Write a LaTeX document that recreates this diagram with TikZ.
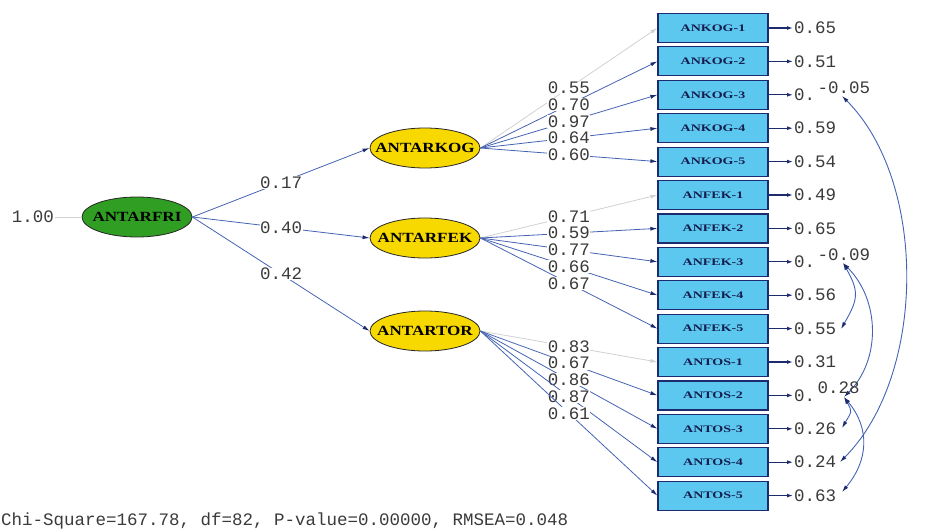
\documentclass[tikz,border=0pt]{standalone}
\usepackage{fontspec}
\setmainfont{Liberation Serif}
\setmonofont{Liberation Mono}
\usetikzlibrary{shapes.geometric,arrows.meta}

\definecolor{boxblue}{HTML}{5CC8F0}
\definecolor{navy}{HTML}{1C2A6E}
\definecolor{pathblue}{HTML}{4563B3}
\definecolor{latgreen}{HTML}{2F9E22}
\definecolor{latyellow}{HTML}{F7D900}
\definecolor{numgray}{HTML}{3A3A3A}

\newcommand{\wide}[2][1.4]{\scalebox{#1}[1]{#2}}

\tikzset{
	obs/.style={draw=navy, line width=1.2pt, fill=boxblue, minimum width=110pt, minimum height=29pt, inner sep=0pt, font=\bfseries\fontsize{10}{10}\selectfont, text=navy!70!black},
	lat/.style={ellipse, draw=black!85, line width=0.8pt, minimum width=110pt, minimum height=40pt, inner sep=0pt},
	lattext/.style={font=\bfseries\fontsize{14}{14}\selectfont, text=black, inner sep=0pt},
	coef/.style={font=\ttfamily\fontsize{17.5}{17.5}\selectfont, text=numgray, fill=white, inner sep=0.5pt},
	err/.style={font=\ttfamily\fontsize{17.5}{17.5}\selectfont, text=numgray, anchor=west, inner sep=1pt},
	corr/.style={font=\ttfamily\fontsize{17.5}{17.5}\selectfont, text=numgray, anchor=south west, inner sep=0.5pt},
	load/.style={draw=pathblue, line width=0.8pt, -{Latex[length=7pt,width=4pt,color=navy]}},
	fixed/.style={draw=black!18, line width=0.8pt, -{Latex[length=7pt,width=4pt]}},
	errarr/.style={draw=navy, line width=1.3pt, -{Latex[length=6pt,width=4pt]}},
	cov/.style={draw=pathblue, line width=0.9pt, {Latex[length=7pt,width=4pt,color=navy]}-{Latex[length=7pt,width=4pt,color=navy]}},
}

\begin{document}
\begin{tikzpicture}[x=1pt, y=-1pt]
	\useasboundingbox (0,0) rectangle (931,532);
	% latent variables
	\node[lat, fill=latgreen, label={[lattext]center:\wide[1.22]{ANTARFRI}}] (fri) at (137,217) {};
	\node[lat, fill=latyellow, label={[lattext]center:\wide[1.22]{ANTARKOG}}] (kog) at (425,148) {};
	\node[lat, fill=latyellow, label={[lattext]center:\wide[1.22]{ANTARFEK}}] (fek) at (425,238) {};
	\node[lat, fill=latyellow, label={[lattext]center:\wide[1.22]{ANTARTOR}}] (tor) at (425,331) {};
	\node[coef] (v) at (33,217) {1.00};
	\draw[fixed, -] (v) -- (fri);

	% indicators
	\node[obs] (k1) at (713,28) {\wide{ANKOG-1}};
	\node[obs] (k2) at (713,61.4) {\wide{ANKOG-2}};
	\node[obs] (k3) at (713,94.8) {\wide{ANKOG-3}};
	\node[obs] (k4) at (713,128.2) {\wide{ANKOG-4}};
	\node[obs] (k5) at (713,161.6) {\wide{ANKOG-5}};
	\node[obs] (f1) at (713,195) {\wide{ANFEK-1}};
	\node[obs] (f2) at (713,228.4) {\wide{ANFEK-2}};
	\node[obs] (f3) at (713,261.8) {\wide{ANFEK-3}};
	\node[obs] (f4) at (713,295.2) {\wide{ANFEK-4}};
	\node[obs] (f5) at (713,328.6) {\wide{ANFEK-5}};
	\node[obs] (t1) at (713,362) {\wide{ANTOS-1}};
	\node[obs] (t2) at (713,395.4) {\wide{ANTOS-2}};
	\node[obs] (t3) at (713,428.8) {\wide{ANTOS-3}};
	\node[obs] (t4) at (713,462.2) {\wide{ANTOS-4}};
	\node[obs] (t5) at (713,495.6) {\wide{ANTOS-5}};

	% error variances
	\node[err] (ek1) at (793,28) {0.65};
	\node[err] (ek2) at (793,61.4) {0.51};
	\node[err] (ek3) at (793,94.8) {0.};
	\node[err] (ek4) at (793,128.2) {0.59};
	\node[err] (ek5) at (793,161.6) {0.54};
	\node[err] (ef1) at (793,195) {0.49};
	\node[err] (ef2) at (793,228.4) {0.65};
	\node[err] (ef3) at (793,261.8) {0.};
	\node[err] (ef4) at (793,295.2) {0.56};
	\node[err] (ef5) at (793,328.6) {0.55};
	\node[err] (et1) at (793,362) {0.31};
	\node[err] (et2) at (793,395.4) {0.};
	\node[err] (et3) at (793,428.8) {0.26};
	\node[err] (et4) at (793,462.2) {0.24};
	\node[err] (et5) at (793,495.6) {0.63};
	\draw[errarr] (k1) -- (ek1);
	\draw[errarr] (k2) -- (ek2);
	\draw[errarr] (k3) -- (ek3);
	\draw[errarr] (k4) -- (ek4);
	\draw[errarr] (k5) -- (ek5);
	\draw[errarr] (f1) -- (ef1);
	\draw[errarr] (f2) -- (ef2);
	\draw[errarr] (f3) -- (ef3);
	\draw[errarr] (f4) -- (ef4);
	\draw[errarr] (f5) -- (ef5);
	\draw[errarr] (t1) -- (et1);
	\draw[errarr] (t2) -- (et2);
	\draw[errarr] (t3) -- (et3);
	\draw[errarr] (t4) -- (et4);
	\draw[errarr] (t5) -- (et5);

	% second order loadings
	\draw[load] (fri.east) -- node[coef] {0.17} (kog.west);
	\draw[load] (fri.east) -- node[coef] {0.40} (fek.west);
	\draw[load] (fri.east) -- node[coef] {0.42} (tor.west);

	% first order loadings
	\draw[fixed] (kog.east) -- node[coef] {0.55} (k1.west);
	\draw[load] (kog.east) -- node[coef] {0.70} (k2.west);
	\draw[load] (kog.east) -- node[coef] {0.97} (k3.west);
	\draw[load] (kog.east) -- node[coef] {0.64} (k4.west);
	\draw[load] (kog.east) -- node[coef] {0.60} (k5.west);
	\draw[fixed] (fek.east) -- node[coef] {0.71} (f1.west);
	\draw[load] (fek.east) -- node[coef] {0.59} (f2.west);
	\draw[load] (fek.east) -- node[coef] {0.77} (f3.west);
	\draw[load] (fek.east) -- node[coef] {0.66} (f4.west);
	\draw[load] (fek.east) -- node[coef] {0.67} (f5.west);
	\draw[fixed] (tor.east) -- node[coef] {0.83} (t1.west);
	\draw[load] (tor.east) -- node[coef] {0.67} (t2.west);
	\draw[load] (tor.east) -- node[coef] {0.86} (t3.west);
	\draw[load] (tor.east) -- node[coef] {0.87} (t4.west);
	\draw[load] (tor.east) -- node[coef] {0.61} (t5.west);

	% error covariances
	\coordinate (c3) at (842,96);
	\coordinate (c8) at (843,263);
	\coordinate (c10) at (841,329);
	\coordinate (c12) at (844,397);
	\coordinate (c13) at (842,428);
	\coordinate (c14) at (840,462);
	\coordinate (c15) at (842,492);
	\draw[cov] (c3) to[out=-45, in=45, looseness=0.85] (c14);
	\draw[cov] (c8) to[out=-60, in=60, looseness=1.3] (c10);
	\draw[cov] (c8) to[out=-45, in=45] (c12);
	\draw[cov] (c12) to[out=-60, in=60, looseness=1.5] (c13);
	\draw[cov] (c12) to[out=-50, in=50, looseness=1.1] (c15);
	\node[corr] (r1) at (817,94) {-0.05};
	\node[corr] (r2) at (817,261) {-0.09};
	\node[corr] (r3) at (817,394) {0.28};

	% fit statistics
	\node[err] (fit) at (0,521) {Chi-Square=167.78, df=82, P-value=0.00000, RMSEA=0.048};
\end{tikzpicture}
\end{document}
